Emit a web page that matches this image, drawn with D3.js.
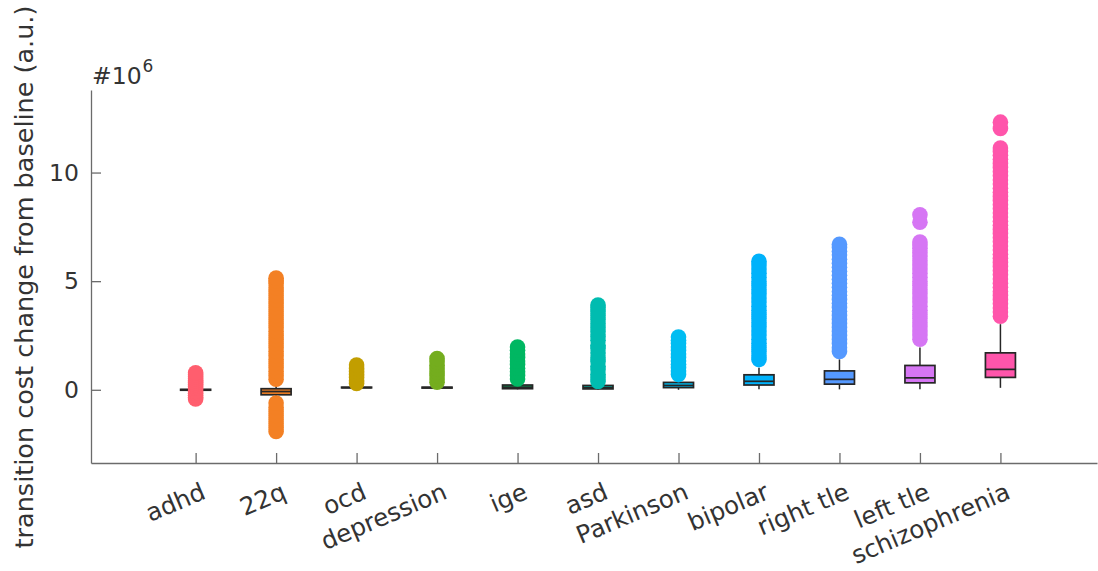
<!DOCTYPE html>
<html>
<head>
<meta charset="utf-8">
<script src="https://cdn.jsdelivr.net/npm/d3@7"></script>
<style>
  html, body { margin: 0; padding: 0; background: #ffffff; }
  svg { display: block; font-family: "DejaVu Sans", Verdana, sans-serif; }
</style>
</head>
<body>
<script>
// Transition cost change from baseline (units of 1e6) per condition
const categories = ["adhd", "22q", "ocd", "depression", "ige", "asd", "Parkinson",
                    "bipolar", "right tle", "left tle", "schizophrenia"];
const colors = ["#ff5e6e", "#f38024", "#c29e00", "#74ad1e", "#00b762", "#00bcb0",
                "#00bdf2", "#00b2fb", "#5599ff", "#d676f4", "#ff55ab"];

// box statistics
const q1Values      = [-0.02, -0.23, 0.09, 0.08, 0.05, 0.04, 0.10, 0.22, 0.26, 0.32, 0.57];
const medianValues  = [ 0.00, -0.08, 0.10, 0.10, 0.12, 0.10, 0.20, 0.39, 0.48, 0.55, 0.94];
const q3Values      = [ 0.02,  0.05, 0.12, 0.12, 0.22, 0.20, 0.34, 0.69, 0.87, 1.12, 1.70];
const whiskerLow    = [-0.04, -0.35, 0.06, 0.05, 0.02, 0.00, 0.00, 0.02, 0.02, 0.02, 0.09];
const whiskerHigh   = [ 0.05,  0.25, 0.22, 0.25, 0.40, 0.35, 0.60, 1.01, 1.40, 1.95, 3.02];

// outliers
const adhdOutliers = [-0.42, -0.34, -0.25, -0.16, -0.08, 0.07, 0.15, 0.24, 0.33, 0.42, 0.51, 0.60, 0.69, 0.78];
const q22Outliers = [-1.92, -1.74, -1.55, -1.37, -1.18, -1.00, -0.81, -0.61,
  0.49, 0.66, 0.85, 1.03, 1.21, 1.40, 1.58, 1.77, 1.95, 2.13, 2.32, 2.50, 2.69, 2.87,
  3.05, 3.24, 3.42, 3.60, 3.79, 3.97, 4.15, 4.34, 4.52, 4.70, 4.89, 5.02, 5.14];
const ocdOutliers = [0.29, 0.42, 0.56, 0.70, 0.84, 0.98, 1.14];
const depressionOutliers = [0.35, 0.50, 0.66, 0.82, 0.97, 1.13, 1.29, 1.44];
const igeOutliers = [0.50, 0.66, 0.83, 0.99, 1.16, 1.32, 1.49, 1.65, 1.82, 1.97];
const asdOutliers = [0.38, 0.55, 0.71, 0.92, 1.08, 1.30, 1.47, 1.69, 1.90, 2.05, 2.28,
  2.45, 2.67, 2.86, 3.04, 3.23, 3.42, 3.60, 3.78, 3.90];
const parkinsonOutliers = [0.70, 0.86, 1.02, 1.18, 1.33, 1.49, 1.65, 1.81, 1.97, 2.13, 2.28, 2.43];
const bipolarOutliers = [1.39, 1.57, 1.76, 1.95, 2.14, 2.33, 2.52, 2.71, 2.90, 3.09, 3.28,
  3.47, 3.66, 3.85, 4.04, 4.23, 4.42, 4.61, 4.80, 4.99, 5.18, 5.37, 5.56, 5.75, 5.92];
const rightTleOutliers = [1.76, 1.94, 2.13, 2.31, 2.50, 2.68, 2.87, 3.05, 3.24, 3.42, 3.61,
  3.79, 3.98, 4.16, 4.35, 4.53, 4.72, 4.90, 5.09, 5.27, 5.46, 5.64, 5.83, 6.01, 6.20,
  6.38, 6.55, 6.70];
const leftTleOutliers = [2.33, 2.52, 2.71, 2.90, 3.09, 3.28, 3.47, 3.66, 3.85, 4.04, 4.23,
  4.42, 4.61, 4.80, 4.99, 5.18, 5.37, 5.56, 5.75, 5.94, 6.13, 6.32, 6.51, 6.67, 6.80,
  7.71, 8.06];
const schizophreniaOutliers = [3.39, 3.58, 3.77, 3.96, 4.15, 4.34, 4.53, 4.72, 4.91, 5.10,
  5.29, 5.48, 5.67, 5.86, 6.05, 6.24, 6.43, 6.62, 6.81, 7.00, 7.19, 7.38, 7.57, 7.76,
  7.95, 8.14, 8.33, 8.52, 8.71, 8.90, 9.09, 9.28, 9.47, 9.66, 9.85, 10.04, 10.23, 10.42,
  10.61, 10.80, 10.97, 11.13, 12.03, 12.32];
const outliers = [adhdOutliers, q22Outliers, ocdOutliers, depressionOutliers, igeOutliers,
  asdOutliers, parkinsonOutliers, bipolarOutliers, rightTleOutliers, leftTleOutliers,
  schizophreniaOutliers];

const yTicks = [0, 5, 10];

const W = 1098, H = 571;
const svg = d3.select("body").append("svg").attr("width", W).attr("height", H);

const x = d3.scaleLinear().domain([-0.3, 12.2]).range([91, 1097]);
const y = d3.scaleLinear().domain([-3.37, 13.8]).range([463, 90]);

const axisColor = "#6b6b6b";
const textColor = "#333333";
const edgeColor = "#262626";
const boxHalf = 15;
const radius = 7.8;

// y axis
const gy = svg.append("g").attr("transform", "translate(91,0)")
  .call(d3.axisLeft(y).tickValues(yTicks).tickSizeInner(-10).tickSizeOuter(0).tickPadding(12));
gy.select(".domain").attr("stroke", axisColor).attr("stroke-width", 1.3);
gy.selectAll(".tick line").attr("stroke", axisColor).attr("stroke-width", 1.3);
gy.selectAll(".tick text").attr("fill", textColor).attr("font-size", 23.5)
  .attr("font-family", "DejaVu Sans");

// x axis
const gx = svg.append("g").attr("transform", "translate(0,463)")
  .call(d3.axisBottom(x).tickValues(d3.range(1, categories.length + 1))
    .tickFormat(i => categories[i - 1]).tickSizeInner(-10).tickSizeOuter(0));
gx.select(".domain").attr("stroke", axisColor).attr("stroke-width", 1.3);
gx.selectAll(".tick line").attr("stroke", axisColor).attr("stroke-width", 1.3);
gx.selectAll(".tick text")
  .attr("fill", textColor).attr("font-size", 24.5).attr("font-family", "DejaVu Sans")
  .attr("text-anchor", "end").attr("x", 0).attr("y", 0).attr("dy", null)
  .attr("transform", "translate(11,35) rotate(-23)");

// exponent label
const expo = svg.append("text").attr("x", 92).attr("y", 84)
  .attr("fill", textColor).attr("font-size", 23.5);
expo.append("tspan").text("#10");
expo.append("tspan").attr("font-size", 17).attr("dy", -12).attr("dx", 1).text("6");

// y axis title
svg.append("text")
  .attr("transform", "translate(33,277) rotate(-90)")
  .attr("text-anchor", "middle").attr("fill", textColor).attr("font-size", 25.5)
  .text("transition cost change from baseline (a.u.)");

// boxes
const groups = svg.append("g").selectAll("g").data(categories).join("g");
groups.each(function (c, i) {
  const g = d3.select(this);
  const cx = x(i + 1);
  g.append("line").attr("x1", cx).attr("x2", cx)
    .attr("y1", y(q3Values[i])).attr("y2", y(whiskerHigh[i]))
    .attr("stroke", edgeColor).attr("stroke-width", 1.5);
  g.append("line").attr("x1", cx).attr("x2", cx)
    .attr("y1", y(q1Values[i])).attr("y2", y(whiskerLow[i]))
    .attr("stroke", edgeColor).attr("stroke-width", 1.5);
  g.append("rect").attr("x", cx - boxHalf).attr("width", boxHalf * 2)
    .attr("y", y(q3Values[i])).attr("height", y(q1Values[i]) - y(q3Values[i]))
    .attr("fill", colors[i]).attr("stroke", edgeColor).attr("stroke-width", 1.7);
  g.append("line").attr("x1", cx - boxHalf).attr("x2", cx + boxHalf)
    .attr("y1", y(medianValues[i])).attr("y2", y(medianValues[i]))
    .attr("stroke", edgeColor).attr("stroke-width", 1.7);
  g.selectAll("circle").data(outliers[i]).join("circle")
    .attr("cx", cx).attr("cy", d => y(d)).attr("r", radius)
    .attr("fill", colors[i]);
});
</script>
</body>
</html>
